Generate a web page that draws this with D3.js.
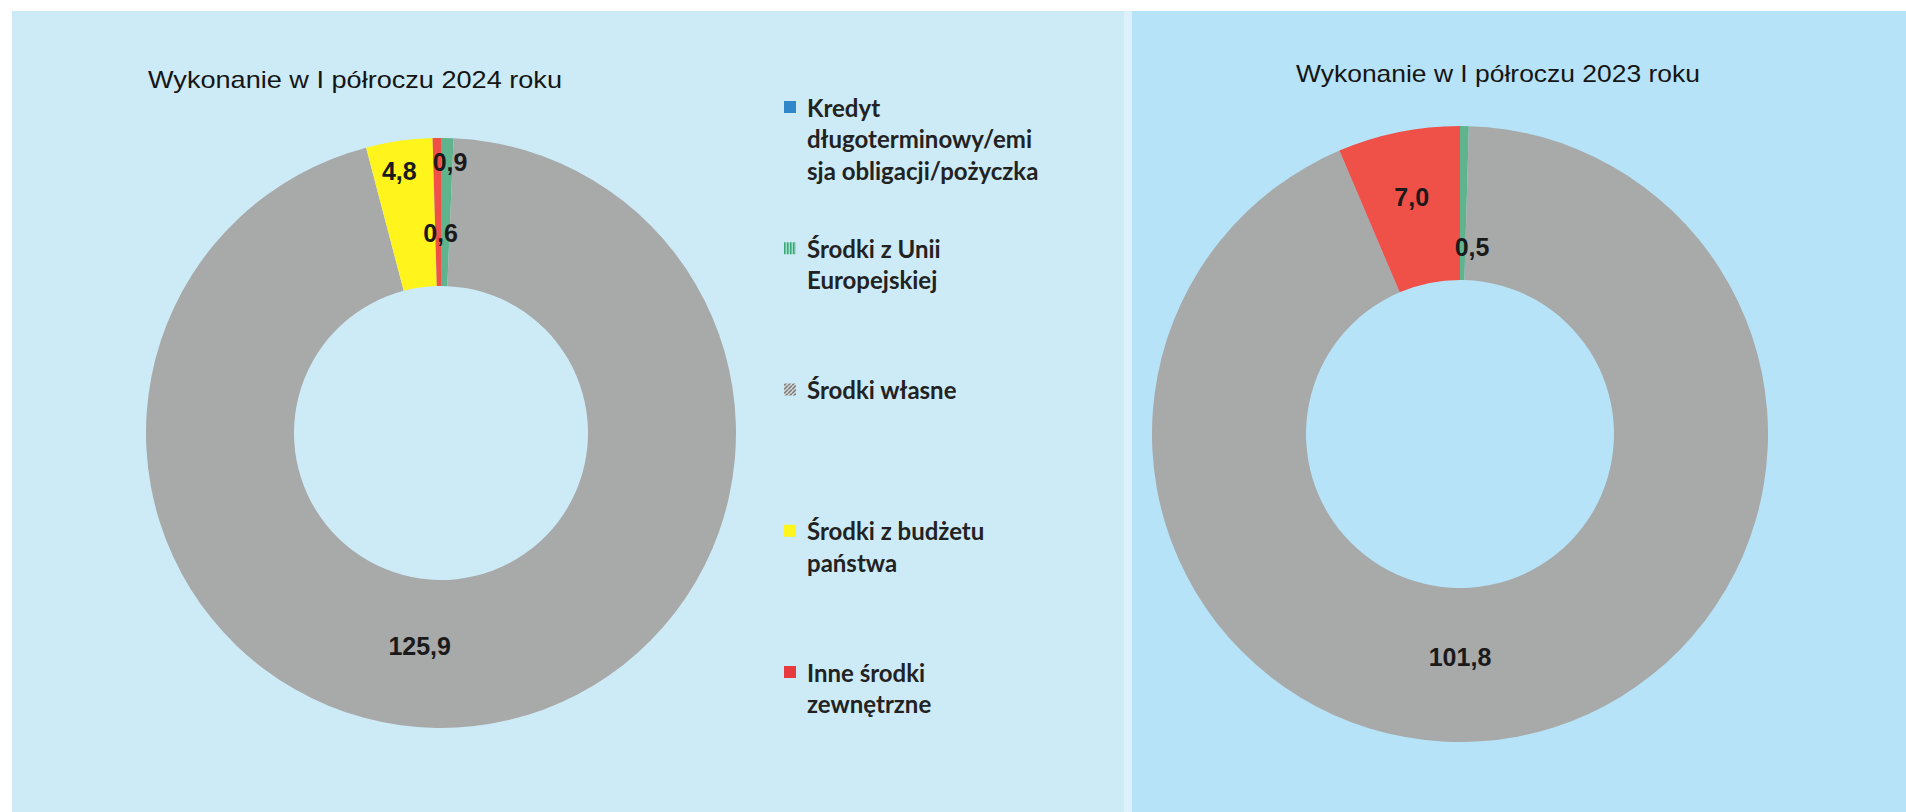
<!DOCTYPE html>
<html>
<head>
<meta charset="utf-8">
<script src="https://cdn.jsdelivr.net/npm/d3@7"></script>
<style>
  html, body { margin: 0; padding: 0; background: #fff; }
  svg { display: block; }
</style>
</head>
<body>
<div id="container"></div>
<script>
// Data
const categories = [
  "Kredyt długoterminowy/emisja obligacji/pożyczka",
  "Środki z Unii Europejskiej",
  "Środki własne",
  "Środki z budżetu państwa",
  "Inne środki zewnętrzne"
];
const values2024 = [0, 0.9, 125.9, 4.8, 0.6];
const values2023 = [0, 0.5, 101.8, 0, 7.0];
const titles = ["Wykonanie w I półroczu 2024 roku", "Wykonanie w I półroczu 2023 roku"];
const legendLines = [
  ["Kredyt", "długoterminowy/emi", "sja obligacji/pożyczka"],
  ["Środki z Unii", "Europejskiej"],
  ["Środki własne"],
  ["Środki z budżetu", "państwa"],
  ["Inne środki", "zewnętrzne"]
];

const width = 1906;
const height = 812;

const sliceColors = ["#2f86c9", "#5fb48e", "#a8a9a9", "#fff41c", "#ef5048"];

const svg = d3.select("#container").append("svg")
    .attr("width", width)
    .attr("height", height);

// patterns for legend keys (hatched like the scan)
const defs = svg.append("defs");
const pGreen = defs.append("pattern")
    .attr("id", "hatchGreen")
    .attr("width", 3).attr("height", 3)
    .attr("patternUnits", "userSpaceOnUse");
pGreen.append("rect").attr("width", 3).attr("height", 3).attr("fill", "#9fdcc4");
pGreen.append("rect").attr("width", 1.5).attr("height", 3).attr("fill", "#3aa77c");
const pGray = defs.append("pattern")
    .attr("id", "hatchGray")
    .attr("width", 4).attr("height", 4)
    .attr("patternUnits", "userSpaceOnUse");
pGray.append("rect").attr("width", 4).attr("height", 4).attr("fill", "#d8dcdc");
pGray.append("path").attr("d", "M0,4 L4,0").attr("stroke", "#555").attr("stroke-width", 1.2);

const legendFills = ["#2f86c9", "url(#hatchGreen)", "url(#hatchGray)", "#fff41c", "#e63a3e"];

// background panels
svg.append("rect")
    .attr("x", 12).attr("y", 11)
    .attr("width", 1112).attr("height", height - 11)
    .attr("fill", "#cdebf6");
svg.append("rect")
    .attr("x", 1124).attr("y", 11)
    .attr("width", 8).attr("height", height - 11)
    .attr("fill", "#dcf1fa");
svg.append("rect")
    .attr("x", 1132).attr("y", 11)
    .attr("width", width - 1132).attr("height", height - 11)
    .attr("fill", "#b6e3f7");

// charts
const charts = [
  { values: values2024, title: titles[0], cx: 441, cy: 433, rIn: 147, rOut: 295, titleX: 355, titleY: 88, titleW: 414 },
  { values: values2023, title: titles[1], cx: 1460, cy: 434, rIn: 154, rOut: 308, titleX: 1498, titleY: 82, titleW: 404 }
];

const pie = d3.pie().sort(null).value(d => d);
const fmt = v => d3.format(".1f")(v).replace(".", ",");

charts.forEach(ch => {
  const g = svg.append("g").attr("transform", `translate(${ch.cx},${ch.cy})`);
  const arc = d3.arc().innerRadius(ch.rIn).outerRadius(ch.rOut);
  const arcs = pie(ch.values);
  const total = d3.sum(ch.values);

  g.selectAll("path.slice")
    .data(arcs)
    .join("path")
      .attr("class", "slice")
      .attr("d", arc)
      .attr("fill", (d, i) => sliceColors[i]);

  // label placement: small slices alternate outer / inner, biggest goes to bottom
  const shown = arcs.filter(d => d.data > 0);
  const tiny = shown.filter(d => d.data / total < 0.01);
  const biggest = d3.greatest(shown, d => d.data);
  shown.forEach(d => {
    const share = d.data / total;
    let angle = (d.startAngle + d.endAngle) / 2;
    let frac = 0.5;
    if (d === biggest) {
      angle = Math.PI + (tiny.length > 1 ? 0.1 : 0);
      frac = 0.45;
    } else if (share < 0.01) {
      frac = (d === tiny[tiny.length - 1]) ? (tiny.length > 1 ? 0.36 : 0.22) : 0.84;
      angle += (tiny.length > 1 ? 0.012 : 0.05);
    } else if (share < 0.05) {
      frac = 0.8;
      angle -= 0.015;
    } else {
      frac = 0.57;
    }
    const r = ch.rIn + frac * (ch.rOut - ch.rIn);
    g.append("text")
      .attr("x", r * Math.sin(angle))
      .attr("y", -r * Math.cos(angle))
      .attr("text-anchor", "middle")
      .attr("dominant-baseline", "central")
      .attr("font-family", "'Liberation Sans', Arial, sans-serif")
      .attr("font-weight", "bold")
      .attr("font-size", 25)
      .attr("fill", "#1a1a1a")
      .text(fmt(d.data));
  });

  svg.append("text")
    .attr("x", ch.titleX)
    .attr("y", ch.titleY)
    .attr("text-anchor", "middle")
    .attr("font-family", "'Liberation Sans', Arial, sans-serif")
    .attr("font-size", 24)
    .attr("fill", "#151515")
    .attr("textLength", ch.titleW)
    .attr("lengthAdjust", "spacingAndGlyphs")
    .text(ch.title);
});

// legend
const legend = svg.append("g").attr("transform", "translate(784,107)");
const legendY = d3.scalePoint().domain(d3.range(categories.length)).range([0, 565]);
categories.forEach((c, i) => {
  const item = legend.append("g").attr("transform", `translate(0,${legendY(i)})`);
  item.append("rect")
    .attr("x", 0).attr("y", -6)
    .attr("width", 12).attr("height", 12)
    .attr("fill", legendFills[i]);
  item.selectAll("text")
    .data(legendLines[i])
    .join("text")
      .attr("x", 23)
      .attr("y", (d, j) => j * 31.5)
      .attr("dominant-baseline", "central")
      .attr("font-family", "Lato, 'Open Sans', sans-serif")
      .attr("font-weight", "bold")
      .attr("font-size", 24)
      .attr("fill", "#222")
      .text(d => d);
});
</script>
</body>
</html>
